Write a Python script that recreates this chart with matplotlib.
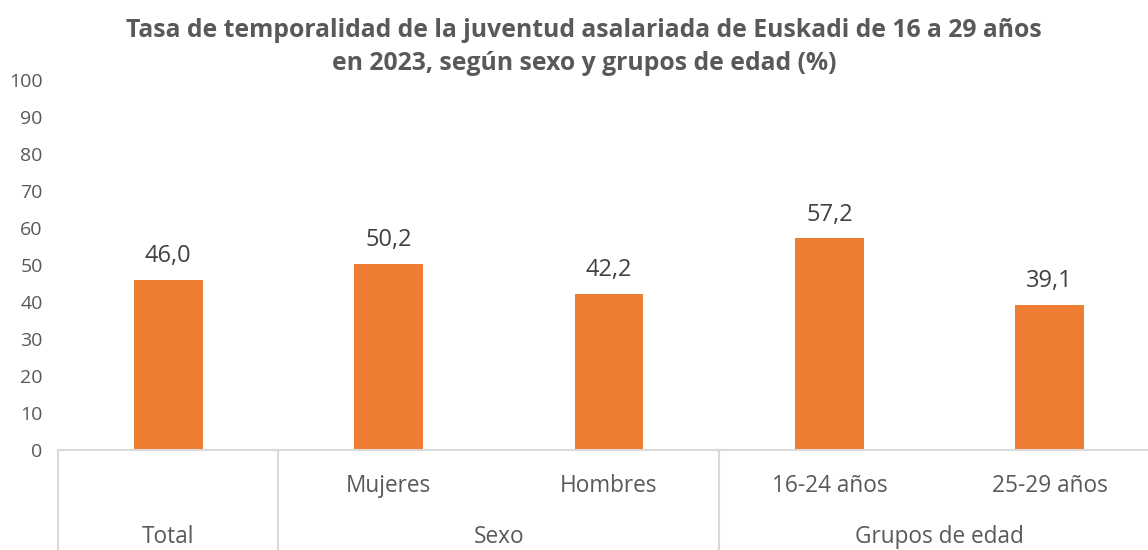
import matplotlib.pyplot as plt

categories = ['Total', 'Mujeres', 'Hombres', '16-24 años', '25-29 años']
values = [46.0, 50.2, 42.2, 57.2, 39.1]
groups = ['Total', 'Sexo', 'Grupos de edad']
group_spans = [(0, 0), (1, 2), (3, 4)]
first_level = ['', 'Mujeres', 'Hombres', '16-24 años', '25-29 años']

orange = '#ED7D31'
grey_txt = '#595959'
line_col = '#D9D9D9'

plt.rcParams['font.family'] = ['Open Sans', 'DejaVu Sans']

fig = plt.figure(figsize=(11.48, 5.5), dpi=100)
ax = fig.add_axes([58 / 1148, 100 / 550, 1102 / 1148, 370 / 550])

x = list(range(len(values)))
ax.bar(x, values, width=0.313, color=orange)
for xi, v in zip(x, values):
    ax.text(xi, v + 3.2, f'{v:.1f}'.replace('.', ','), ha='center', va='bottom',
            fontsize=17, color='#404040')

ax.set_xlim(-0.5, 4.5)
ax.set_ylim(0, 100)
ax.set_yticks(range(0, 101, 10))
ax.tick_params(axis='y', length=0, labelsize=14, colors=grey_txt, pad=11)
ax.set_xticks([])
for s in ['top', 'right', 'left']:
    ax.spines[s].set_visible(False)
ax.spines['bottom'].set_color(line_col)
ax.spines['bottom'].set_linewidth(1.5)

tr = ax.get_xaxis_transform()
for xi, lab in zip(x, first_level):
    if lab:
        ax.text(xi, -0.097, lab, transform=tr, ha='center', va='center',
                fontsize=16.3, color=grey_txt)
for g, (a, b) in zip(groups, group_spans):
    ax.text((a + b) / 2, -0.235, g, transform=tr, ha='center', va='center',
            fontsize=16.3, color=grey_txt, clip_on=False)
for sep in [-0.5, 0.5, 2.5, 4.5]:
    ax.plot([sep, sep], [0, -0.3], transform=tr, color=line_col, lw=1.5,
            clip_on=False)

fig.text(0.509, 0.915, 'Tasa de temporalidad de la juventud asalariada de Euskadi de 16 a 29 años\n'
         'en 2023, según sexo y grupos de edad (%)', ha='center', va='center',
         fontsize=17.8, fontweight='bold', color=grey_txt, linespacing=1.42)

fig.savefig('out.png', dpi=100)
